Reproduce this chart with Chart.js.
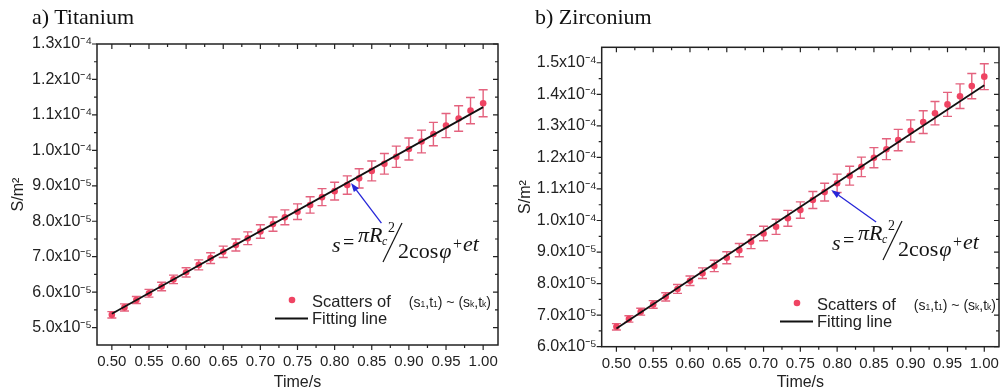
<!DOCTYPE html>
<html>
<head>
<meta charset="utf-8">
<script src="https://cdn.jsdelivr.net/npm/chart.js@4.4.1/dist/chart.umd.min.js"></script>
<style>
  html, body { margin: 0; padding: 0; background: #fff; }
  #wrap { position: relative; width: 1003px; height: 391px; overflow: hidden; }
  canvas { position: absolute; top: 0; }
  #cvTi { left: 0; }
  #cvZr { left: 500px; }
  .title { position: absolute; top: 6px; font: 22px "Liberation Serif", "Times New Roman", serif; line-height: 22px; color: #111; white-space: nowrap; }
</style>
</head>
<body>
<div id="wrap">
  <canvas id="cvTi" width="502" height="391"></canvas>
  <canvas id="cvZr" width="503" height="391"></canvas>
  <div class="title" style="left:32px">a) Titanium</div>
  <div class="title" style="left:535px">b) Zirconium</div>
</div>
<script>
// ── DATA
const times = [0.500, 0.517, 0.533, 0.550, 0.567, 0.583, 0.600, 0.617, 0.633, 0.650,
               0.667, 0.683, 0.700, 0.717, 0.733, 0.750, 0.767, 0.783, 0.800, 0.817,
               0.833, 0.850, 0.867, 0.883, 0.900, 0.917, 0.933, 0.950, 0.967, 0.983, 1.000];

const tiValues = [5.36e-5, 5.57e-5, 5.78e-5, 5.97e-5, 6.16e-5, 6.36e-5, 6.56e-5, 6.77e-5, 6.96e-5, 7.14e-5,
                  7.33e-5, 7.52e-5, 7.71e-5, 7.92e-5, 8.11e-5, 8.27e-5, 8.46e-5, 8.68e-5, 8.85e-5, 9.02e-5,
                  9.21e-5, 9.42e-5, 9.62e-5, 9.82e-5, 1.004e-4, 1.025e-4, 1.046e-4, 1.070e-4, 1.090e-4, 1.112e-4, 1.133e-4];
const tiErrors = [0.09e-5, 0.10e-5, 0.10e-5, 0.11e-5, 0.12e-5, 0.12e-5, 0.13e-5, 0.14e-5, 0.15e-5, 0.16e-5,
                  0.17e-5, 0.18e-5, 0.19e-5, 0.20e-5, 0.21e-5, 0.22e-5, 0.23e-5, 0.24e-5, 0.25e-5, 0.26e-5,
                  0.27e-5, 0.28e-5, 0.29e-5, 0.30e-5, 0.31e-5, 0.32e-5, 0.33e-5, 0.34e-5, 0.36e-5, 0.37e-5, 0.38e-5];
const tiFit = [5.39e-5, 1.122e-4];

const zrValues = [6.63e-5, 6.88e-5, 7.11e-5, 7.34e-5, 7.58e-5, 7.83e-5, 8.09e-5, 8.33e-5, 8.56e-5, 8.82e-5,
                  9.06e-5, 9.33e-5, 9.59e-5, 9.80e-5, 1.007e-4, 1.033e-4, 1.065e-4, 1.090e-4, 1.118e-4, 1.142e-4,
                  1.170e-4, 1.199e-4, 1.226e-4, 1.255e-4, 1.284e-4, 1.312e-4, 1.340e-4, 1.368e-4, 1.394e-4, 1.426e-4, 1.456e-4];
const zrErrors = [0.10e-5, 0.10e-5, 0.11e-5, 0.12e-5, 0.13e-5, 0.14e-5, 0.15e-5, 0.17e-5, 0.18e-5, 0.19e-5,
                  0.21e-5, 0.22e-5, 0.23e-5, 0.24e-5, 0.25e-5, 0.26e-5, 0.27e-5, 0.28e-5, 0.29e-5, 0.30e-5,
                  0.31e-5, 0.32e-5, 0.33e-5, 0.34e-5, 0.35e-5, 0.36e-5, 0.37e-5, 0.38e-5, 0.39e-5, 0.40e-5, 0.41e-5];
const zrFit = [6.58e-5, 1.429e-4];

const fitTimes = [0.50, 1.00];

const xTicks = [0.50, 0.55, 0.60, 0.65, 0.70, 0.75, 0.80, 0.85, 0.90, 0.95, 1.00];
const xTickLabels = ['0.50', '0.55', '0.60', '0.65', '0.70', '0.75', '0.80', '0.85', '0.90', '0.95', '1.00'];

const tiYTicks = [5e-5, 6e-5, 7e-5, 8e-5, 9e-5, 1.0e-4, 1.1e-4, 1.2e-4, 1.3e-4];
const tiYLabels = ['5.0x10⁻⁵', '6.0x10⁻⁵', '7.0x10⁻⁵', '8.0x10⁻⁵', '9.0x10⁻⁵',
                   '1.0x10⁻⁴', '1.1x10⁻⁴', '1.2x10⁻⁴', '1.3x10⁻⁴'];
const zrYTicks = [6e-5, 7e-5, 8e-5, 9e-5, 1.0e-4, 1.1e-4, 1.2e-4, 1.3e-4, 1.4e-4, 1.5e-4];
const zrYLabels = ['6.0x10⁻⁵', '7.0x10⁻⁵', '8.0x10⁻⁵', '9.0x10⁻⁵', '1.0x10⁻⁴',
                   '1.1x10⁻⁴', '1.2x10⁻⁴', '1.3x10⁻⁴', '1.4x10⁻⁴', '1.5x10⁻⁴'];

// ── STYLE
const INK = '#222';
const POINT = '#ef4463';
const ERRBAR = '#e4627e';
const ARROW = '#2626d8';
const SANS = '"Liberation Sans", Arial, sans-serif';
const SERIF = '"Liberation Serif", "Times New Roman", serif';

Chart.defaults.font.family = SANS;
Chart.defaults.color = INK;

// ── helpers for the annotation plugin
function drawAxisTicks(ctx, scale, area, horizontal) {
  const vals = scale.ticks.map(t => t.value);
  const step = vals[1] - vals[0];
  const minors = [vals[0] - step / 2];
  for (let i = 0; i < vals.length - 1; i++) minors.push((vals[i] + vals[i + 1]) / 2);
  minors.push(vals[vals.length - 1] + step / 2);

  const mark = (v, len) => {
    if (v < scale.min - 1e-12 || v > scale.max + 1e-12) return;
    const p = scale.getPixelForValue(v);
    if (horizontal) {
      ctx.moveTo(p, area.bottom); ctx.lineTo(p, area.bottom + len);   // outward
      ctx.moveTo(p, area.top);    ctx.lineTo(p, area.top + len);      // inward mirror
    } else {
      ctx.moveTo(area.left, p);  ctx.lineTo(area.left - len, p);
      ctx.moveTo(area.right, p); ctx.lineTo(area.right - len, p);
    }
  };
  ctx.beginPath();
  vals.forEach(v => mark(v, 5));
  minors.forEach(v => mark(v, 3));
  ctx.stroke();
}

function drawFormula(ctx, ax, ay) {
  ctx.save();
  ctx.fillStyle = '#151515';
  ctx.strokeStyle = '#151515';
  ctx.textBaseline = 'alphabetic';
  ctx.font = `italic 22px ${SERIF}`;
  ctx.fillText('s', ax, ay);
  ctx.font = `20px ${SERIF}`;
  ctx.fillText('=', ax + 11, ay - 3);
  ctx.font = `italic 22px ${SERIF}`;
  ctx.fillText('πR', ax + 26, ay - 10);
  ctx.font = `italic 12px ${SERIF}`;
  ctx.fillText('c', ax + 50, ay - 7);
  ctx.font = `14px ${SERIF}`;
  ctx.fillText('2', ax + 56, ay - 20);
  ctx.lineWidth = 1.2;
  ctx.beginPath();
  ctx.moveTo(ax + 51, ay + 10);
  ctx.lineTo(ax + 70, ay - 29);
  ctx.stroke();
  ctx.font = `22px ${SERIF}`;
  ctx.fillText('2cos', ax + 66, ay + 6);
  const w = ctx.measureText('2cos').width;
  ctx.font = `italic 22px ${SERIF}`;
  ctx.fillText('φ', ax + 66 + w + 1, ay + 6);
  ctx.font = `16px ${SERIF}`;
  ctx.fillText('+', ax + 121, ay - 3);
  ctx.font = `italic 22px ${SERIF}`;
  ctx.fillText('et', ax + 131, ay - 1);
  ctx.restore();
}

function drawLegend(ctx, lx, ly) {
  ctx.save();
  ctx.fillStyle = POINT;
  ctx.beginPath();
  ctx.arc(lx, ly, 3.3, 0, Math.PI * 2);
  ctx.fill();

  ctx.fillStyle = INK;
  ctx.textBaseline = 'alphabetic';
  const big = `16.5px ${SANS}`, mid = `14px ${SANS}`, sub = `8.5px ${SANS}`;
  let x = lx + 20;
  const base = ly + 6.5;
  ctx.font = big;
  ctx.fillText('Scatters of', x, base);
  x += ctx.measureText('Scatters of').width + 18;
  const pieces = [['(s', mid, 0], ['1', sub, 0.5], [',t', mid, 0], ['1', sub, 0.5], [') ~ (s', mid, 0],
                  ['k', sub, 0.5], [',t', mid, 0], ['k', sub, 0.5], [')', mid, 0]];
  pieces.forEach(([t, f, dy]) => {
    ctx.font = f;
    ctx.fillText(t, x, base + dy);
    x += ctx.measureText(t).width;
  });

  ctx.strokeStyle = '#111';
  ctx.lineWidth = 2;
  ctx.beginPath();
  ctx.moveTo(lx - 17, ly + 18.5);
  ctx.lineTo(lx + 16, ly + 18.5);
  ctx.stroke();
  ctx.font = big;
  ctx.fillText('Fitting line', lx + 20, ly + 24);
  ctx.restore();
}

function drawArrow(ctx, x0, y0, x1, y1) {
  const ang = Math.atan2(y1 - y0, x1 - x0);
  const head = 9, half = 3.2;
  const bx = x1 - head * Math.cos(ang), by = y1 - head * Math.sin(ang);
  ctx.save();
  ctx.strokeStyle = ARROW;
  ctx.fillStyle = ARROW;
  ctx.lineWidth = 1.3;
  ctx.beginPath();
  ctx.moveTo(x0, y0);
  ctx.lineTo(bx, by);
  ctx.stroke();
  ctx.beginPath();
  ctx.moveTo(x1, y1);
  ctx.lineTo(bx + half * Math.sin(ang), by - half * Math.cos(ang));
  ctx.lineTo(bx - half * Math.sin(ang), by + half * Math.cos(ang));
  ctx.closePath();
  ctx.fill();
  ctx.restore();
}

// ── PLUGIN: error bars, Origin-style frame with mirrored ticks, arrow, formula, legend
const sketchPlugin = {
  id: 'sketch',
  beforeDatasetsDraw(chart) {
    const { ctx, scales: { x, y } } = chart;
    chart.data.datasets.forEach(ds => {
      if (!ds.errors) return;
      ctx.save();
      ctx.strokeStyle = ERRBAR;
      ctx.lineWidth = 1.4;
      ctx.beginPath();
      ds.data.forEach((p, i) => {
        const px = x.getPixelForValue(p.x);
        const top = y.getPixelForValue(p.y + ds.errors[i]);
        const bot = y.getPixelForValue(p.y - ds.errors[i]);
        ctx.moveTo(px, top); ctx.lineTo(px, bot);
        ctx.moveTo(px - 4.5, top); ctx.lineTo(px + 4.5, top);
        ctx.moveTo(px - 4.5, bot); ctx.lineTo(px + 4.5, bot);
      });
      ctx.stroke();
      ctx.restore();
    });
  },
  afterDraw(chart, args, opts) {
    const { ctx, chartArea: area, scales: { x, y } } = chart;
    ctx.save();
    ctx.strokeStyle = INK;
    ctx.lineWidth = 1.5;
    ctx.strokeRect(area.left, area.top, area.right - area.left, area.bottom - area.top);
    ctx.lineWidth = 1.2;
    drawAxisTicks(ctx, x, area, true);
    drawAxisTicks(ctx, y, area, false);
    ctx.restore();

    const a = opts.arrow;
    drawArrow(ctx, x.getPixelForValue(a.from[0]), y.getPixelForValue(a.from[1]),
                   x.getPixelForValue(a.to[0]), y.getPixelForValue(a.to[1]));
    drawFormula(ctx, opts.formula[0], opts.formula[1]);
    drawLegend(ctx, opts.legend[0], opts.legend[1]);
  }
};

function buildChart(canvasId, cfg) {
  const points = times.map((t, i) => ({ x: t, y: cfg.values[i] }));
  const fit = fitTimes.map((t, i) => ({ x: t, y: cfg.fit[i] }));

  return new Chart(document.getElementById(canvasId), {
    type: 'scatter',
    data: {
      datasets: [
        { type: 'line', label: 'Fitting line', data: fit, borderColor: '#111', borderWidth: 1.8,
          pointRadius: 0, fill: false, order: 0 },
        { label: 'Scatters', data: points, errors: cfg.errors, backgroundColor: POINT,
          borderWidth: 0, pointRadius: 3.3, order: 1 }
      ]
    },
    options: {
      responsive: false,
      animation: false,
      events: [],
      layout: { padding: { top: cfg.top, right: cfg.right, left: 0, bottom: 0 } },
      plugins: {
        legend: { display: false },
        tooltip: { enabled: false },
        sketch: { arrow: cfg.arrow, formula: cfg.formula, legend: cfg.legend }
      },
      scales: {
        x: {
          type: 'linear', min: 0.48, max: 1.02,
          afterBuildTicks: s => { s.ticks = xTicks.map(v => ({ value: v })); },
          afterFit: s => { s.height = cfg.xHeight; s.paddingLeft = 0; s.paddingRight = 0; },
          grid: { display: false, drawTicks: false },
          border: { display: false },
          ticks: { padding: 9.5, color: INK, autoSkip: false, maxRotation: 0,
                   font: { size: 15, lineHeight: 1 }, callback: (v, i) => xTickLabels[i] },
          title: { display: true, text: 'Time/s', color: INK,
                   font: { size: 16, lineHeight: 1 }, padding: { top: 0, bottom: 0 } }
        },
        y: {
          type: 'linear', min: cfg.yMin, max: cfg.yMax,
          afterBuildTicks: s => { s.ticks = cfg.yTicks.map(v => ({ value: v })); },
          afterFit: s => { s.width = cfg.yWidth; },
          grid: { display: false, drawTicks: false },
          border: { display: false },
          ticks: { padding: 5, color: INK, autoSkip: false,
                   font: { size: 16, lineHeight: 1.2 }, callback: (v, i) => cfg.yLabels[i] },
          title: { display: true, text: 'S/m²', color: INK,
                   font: { size: 16, lineHeight: 1.2 }, padding: { top: cfg.yTitlePad, bottom: 0 } }
        }
      }
    },
    plugins: [sketchPlugin]
  });
}

buildChart('cvTi', {
  values: tiValues, errors: tiErrors, fit: tiFit,
  yMin: 4.51e-5, yMax: 1.3e-4, yTicks: tiYTicks, yLabels: tiYLabels,
  top: 44, right: 2, yWidth: 97, xHeight: 46, yTitlePad: 9.4,
  arrow: { from: [0.863, 7.95e-5], to: [0.822, 9.08e-5] },
  formula: [332, 252],
  legend: [292, 300]
});

buildChart('cvZr', {
  values: zrValues, errors: zrErrors, fit: zrFit,
  yMin: 6.0e-5, yMax: 1.549e-4, yTicks: zrYTicks, yLabels: zrYLabels,
  top: 47.3, right: 3, yWidth: 101.7, xHeight: 44.3, yTitlePad: 16.2,
  arrow: { from: [0.853, 9.95e-5], to: [0.792, 1.0965e-4] },
  formula: [332, 250],
  legend: [297, 303]
});
</script>
</body>
</html>
